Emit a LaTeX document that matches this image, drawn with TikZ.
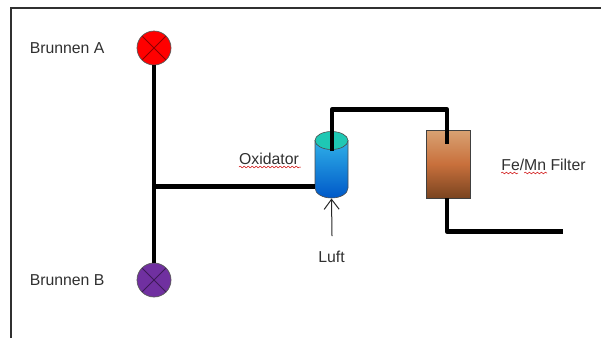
\documentclass[tikz,border=0pt]{standalone}
\usepackage{fontspec}
\setmainfont{Liberation Sans}
\usetikzlibrary{positioning,arrows.meta,shapes.geometric,decorations.pathmorphing}
\definecolor{wellacol}{HTML}{FF0000}
\definecolor{wellbcol}{HTML}{7030A0}
\definecolor{oxitopcol}{HTML}{1FC8B4}
\definecolor{oxiupcol}{HTML}{2FB0E8}
\definecolor{oxilowcol}{HTML}{0058C8}
\definecolor{filtupcol}{HTML}{D9A273}
\definecolor{filtmidcol}{HTML}{C8703C}
\definecolor{filtlowcol}{HTML}{7A4420}
\definecolor{framecol}{HTML}{303030}
\definecolor{textcol}{HTML}{303030}

\begin{document}
\begin{tikzpicture}[
  x=1pt, y=-1pt,
  font=\fontsize{15.8}{18}\selectfont,
  lab/.style={text=textcol, inner sep=0pt},
  well/.style={circle, draw=black!65, line width=0.7pt, minimum size=34pt, inner sep=0pt,
               path picture={
                 \draw[black, opacity=0.45, line width=0.8pt]
                   (path picture bounding box.north west) -- (path picture bounding box.south east)
                   (path picture bounding box.north east) -- (path picture bounding box.south west);}},
  pipe/.style={line width=4.5pt, black},
  squig/.style={red!80!black, line width=0.5pt,
                decorate, decoration={snake, amplitude=0.9pt, segment length=4pt}},
]
\useasboundingbox (0,0) rectangle (601,338);

% ---------------------------------------------------------------- frame
\coordinate (framea) at (11,338);
\coordinate (frameb) at (11,8);
\coordinate (framec) at (601,8);
\draw[framecol, line width=1.2pt] (framea) -- (frameb) -- (framec);

% ---------------------------------------------------------------- wells
\node[well, fill=wellacol] (wella) at (154,48) {};
\node[well, fill=wellbcol] (wellb) at (154,280) {};
\node[lab, left=32pt of wella, yshift=-0.5pt] (laba) {Brunnen A};
\node[lab, left=32pt of wellb, yshift=-0.5pt] (labb) {Brunnen B};

% ------------------------------------------------------------- oxidator
\draw[draw=black!70, line width=0.6pt, top color=oxiupcol, bottom color=oxilowcol]
  (315,140.5) -- (315,188) arc[x radius=16.5pt, y radius=10pt, start angle=180, end angle=360]
  -- (348,140.5) -- cycle;
\node[ellipse, draw=black!70, line width=0.6pt, fill=oxitopcol, inner sep=0pt,
      minimum width=33pt, minimum height=18pt] (oxitop) at (331.5,140.5) {};
\coordinate (oxibot) at (331.5,198.5);
\node[lab] (laboxi) at (269,159) {Oxidator};
\node[lab] (labluft) at (331.5,257) {Luft};

% --------------------------------------------------------------- filter
\node[draw=black!75, line width=0.7pt, minimum width=44pt, minimum height=68pt,
      inner sep=0pt, outer sep=0pt, top color=filtupcol, bottom color=filtlowcol,
      middle color=filtmidcol] (filt) at (448,164) {};
\node[lab] (labfilt) at (543.5,165) {Fe/Mn Filter};

% ---------------------------------------------------------------- pipes
\coordinate (tee) at (154,186.5);
\coordinate (teeend) at (315,186.5);
\coordinate (oxiout) at (332,151);
\coordinate (bendup) at (332,109.5);
\coordinate (bendfilt) at (447,109.5);
\coordinate (filtin) at (447,144);
\coordinate (filtout) at (447,198);
\coordinate (bendout) at (447,231.5);
\coordinate (outend) at (563,231.5);
\coordinate (luftin) at (332,236);

\draw[pipe] (wella) -- (wellb);
\draw[pipe] (tee) -- (teeend);
\draw[pipe, line join=round] (oxiout) -- (bendup) -- (bendfilt) -- (filtin);
\draw[pipe, line join=round] (filtout) -- (bendout) -- (outend);
\draw[-{Straight Barb[length=10pt,width=15pt]}, line width=1pt, black!85] (luftin) -- (oxibot);

% ---------------------------------------------------------- spell marks
\draw[squig] (laboxi.south west) ++(0,2) -- ++(62,0);
\draw[squig] (labfilt.south west) ++(0,2) -- ++(17,0);
\draw[squig] (labfilt.south west) ++(23,2) -- ++(23,0);

\end{tikzpicture}
\end{document}
